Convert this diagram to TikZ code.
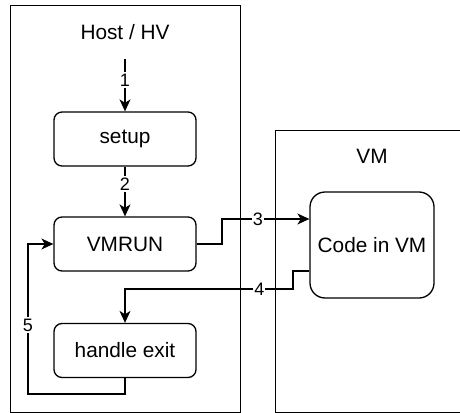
\documentclass[tikz,border=0pt]{standalone}
\usepackage{fontspec}
\setmainfont{Liberation Sans}
\usetikzlibrary{arrows.meta}
\begin{document}
\begin{tikzpicture}[x=1pt,y=-1pt,
  line width=1.3pt,
  frame/.style={draw,line width=1.3pt},
  stepbox/.style={draw,rounded corners=8pt,minimum width=142pt,minimum height=54pt,
    font=\fontsize{20.8}{24}\selectfont,inner sep=0pt},
  flow/.style={-{Stealth[length=12pt,width=11pt,inset=3.5pt]}},
  lbl/.style={fill=white,inner xsep=1pt,inner ysep=2pt,font=\fontsize{18}{20}\selectfont},
  title/.style={font=\fontsize{20.8}{24}\selectfont}]
\clip (0,0) rectangle (460,412);
\fill[white] (0,0) rectangle (460,412);

% containers
\node[frame,draw,minimum width=230pt,minimum height=406.5pt,anchor=north west,inner sep=0pt] (host) at (10,5) {};
\node[frame,draw,minimum width=200pt,minimum height=281.5pt,anchor=north west,inner sep=0pt] (vm) at (275,130) {};
\node[title] (hosttitle) at (125,32) {Host / HV};
\node[title] (vmtitle) at (372,156) {VM};

% steps
\node[stepbox] (setup) at (125,139) {setup};
\node[stepbox] (vmrun) at (125,244) {VMRUN};
\node[stepbox] (exit) at (125,350.5) {handle exit};
\node[stepbox,rounded corners=15pt,minimum width=124pt,minimum height=106pt] (code) at (372,245) {Code in VM};

\coordinate (start) at (125,59);

% connectors
\draw[flow] (start) -- node[lbl,pos=0.4] {1} (setup.north);
\draw[flow] (setup.south) -- node[lbl,pos=0.35] {2} (vmrun.north);
\draw[flow] (vmrun.east) -- (222,244) -- (222,219) -- node[lbl,pos=0.41] {3} (code.west |- 0,219);
\draw[flow] (code.west |- 0,271) -- (293,271) -- (293,289) -- node[lbl,pos=0.2] {4} (125,289) -- (exit.north);
\draw[flow] (exit.south) -- (125,394) -- (28,394) -- node[lbl,pos=0.46] {5} (28,244) -- (vmrun.west);
\end{tikzpicture}
\end{document}
